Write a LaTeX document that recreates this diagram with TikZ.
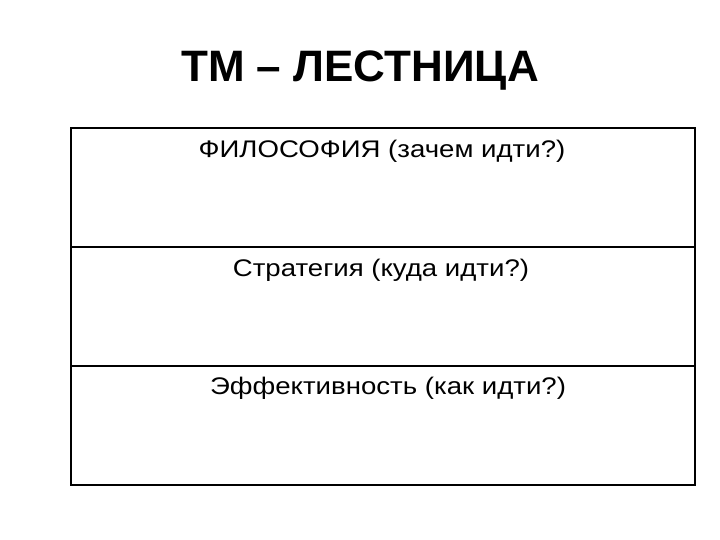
\documentclass[tikz,border=0pt]{standalone}
\usepackage{fontspec}
\setmainfont{Liberation Sans}
\usetikzlibrary{positioning}

\newcommand{\steptext}[1]{\scalebox{1.15}[1]{#1}}

\tikzset{
    title/.style={font=\bfseries\fontsize{44}{48}\selectfont, inner sep=0pt},
    rowtext/.style={font=\fontsize{24}{28}\selectfont, inner sep=0pt},
    frame/.style={line width=2pt, black},
    divider/.style={line width=1.2pt, black}
}

\begin{document}
\begin{tikzpicture}[x=1pt, y=-1pt]
        \useasboundingbox (0,0) rectangle (720,540);

        % title
        \node[name=ttl, title] at (360,71) {ТМ – ЛЕСТНИЦА};

        % ladder frame
        \coordinate (tl) at (71,128);
        \coordinate (br) at (695,485);
        \coordinate (d1l) at (71,247);
        \coordinate (d1r) at (695,247);
        \coordinate (d2l) at (71,366);
        \coordinate (d2r) at (695,366);

        % dividers
        \draw[divider] (d1l) -- (d1r);
        \draw[divider] (d2l) -- (d2r);
        \draw[frame] (tl) rectangle (br);

        % steps
        \node[name=philo, rowtext] at (382,151) {\steptext{ФИЛОСОФИЯ (зачем идти?)}};
        \node[name=strat, rowtext] at (381,270) {\steptext{Стратегия (куда идти?)}};
        \node[name=effic, rowtext] at (388,388) {\steptext{Эффективность (как идти?)}};
    \end{tikzpicture}
\end{document}
